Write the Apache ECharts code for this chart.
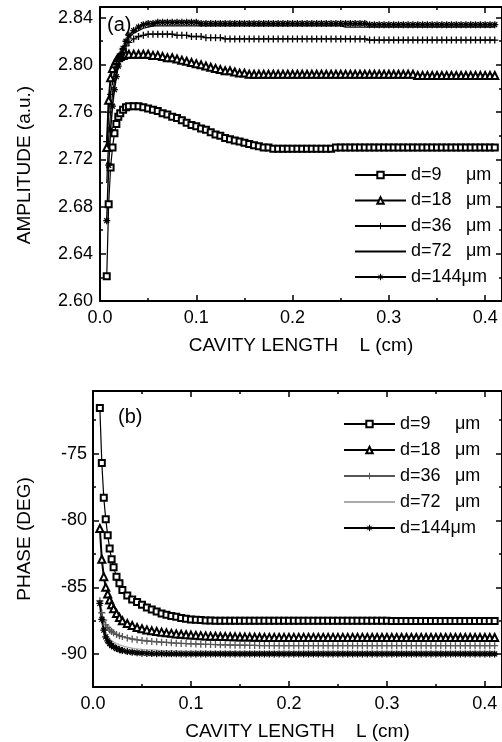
<!DOCTYPE html>
<html><head><meta charset="utf-8">
<script src="https://cdn.jsdelivr.net/npm/echarts@6/dist/echarts.min.js"></script>
<style>html,body{margin:0;padding:0;background:#fff}#c{width:502px;height:742px}</style>
</head><body><div id="c"></div>
<script>
// ---------- data ----------
const L = [0.007,0.009,0.011,0.013,0.015,0.017,0.019,0.021,0.024,0.027,0.030,0.035,0.040,0.045,0.050,
 0.055,0.060,0.065,0.070,0.075,0.080,0.085,0.090,0.095,0.100,
 0.105,0.110,0.115,0.120,0.125,0.130,0.135,0.140,0.145,0.150,
 0.155,0.160,0.165,0.170,0.175,0.180,0.185,0.190,0.195,0.200,
 0.205,0.210,0.215,0.220,0.225,0.230,0.235,0.240,0.245,0.250,
 0.255,0.260,0.265,0.270,0.275,0.280,0.285,0.290,0.295,0.300,
 0.305,0.310,0.315,0.320,0.325,0.330,0.335,0.340,0.345,0.350,
 0.355,0.360,0.365,0.370,0.375,0.380,0.385,0.390,0.395,0.400,
 0.405,0.410];

const ampD9 = [2.621,2.682,2.713,2.730,2.742,2.750,2.756,2.759,2.762,2.764,2.765,2.765,2.765,2.764,2.763,
 2.762,2.761,2.759,2.758,2.756,2.755,2.753,2.751,2.749,2.748,
 2.746,2.745,2.743,2.741,2.740,2.738,2.737,2.736,2.735,2.734,
 2.733,2.732,2.731,2.730,2.730,2.729,2.729,2.729,2.729,2.729,
 2.729,2.729,2.729,2.729,2.729,2.729,2.729,2.729,2.730,2.730,
 2.730,2.730,2.730,2.730,2.730,2.730,2.730,2.730,2.730,2.730,
 2.730,2.730,2.730,2.730,2.730,2.730,2.730,2.730,2.730,2.730,
 2.730,2.730,2.730,2.730,2.730,2.730,2.730,2.730,2.730,2.730,
 2.730,2.730];
const ampD18 = [2.730,2.770,2.789,2.797,2.801,2.804,2.806,2.807,2.808,2.809,2.809,2.809,2.809,2.809,2.809,
 2.808,2.808,2.807,2.806,2.806,2.805,2.804,2.803,2.802,2.801,
 2.800,2.799,2.798,2.797,2.796,2.795,2.795,2.794,2.793,2.793,
 2.792,2.792,2.792,2.792,2.792,2.792,2.792,2.792,2.792,2.792,
 2.792,2.792,2.792,2.792,2.792,2.792,2.792,2.792,2.792,2.792,
 2.792,2.792,2.792,2.792,2.792,2.792,2.792,2.792,2.792,2.792,
 2.792,2.792,2.792,2.792,2.792,2.791,2.791,2.791,2.791,2.791,
 2.791,2.791,2.791,2.791,2.791,2.791,2.791,2.791,2.791,2.791,
 2.791,2.791];
const ampD36 = [2.735,2.760,2.775,2.786,2.794,2.800,2.805,2.809,2.813,2.816,2.819,2.822,2.824,2.825,2.826,
 2.826,2.826,2.826,2.826,2.826,2.825,2.825,2.825,2.824,2.824,
 2.824,2.823,2.823,2.823,2.823,2.822,2.822,2.822,2.822,2.822,
 2.822,2.822,2.822,2.822,2.822,2.822,2.822,2.822,2.822,2.822,
 2.822,2.822,2.822,2.822,2.822,2.822,2.822,2.822,2.822,2.822,
 2.822,2.822,2.822,2.822,2.822,2.821,2.821,2.821,2.821,2.821,
 2.821,2.821,2.821,2.821,2.821,2.821,2.821,2.821,2.821,2.821,
 2.821,2.821,2.821,2.821,2.821,2.821,2.821,2.821,2.821,2.821,
 2.821,2.821];
const ampD72 = [2.700,2.738,2.760,2.775,2.786,2.795,2.802,2.808,2.814,2.819,2.823,2.827,2.829,2.831,2.832,
 2.833,2.833,2.833,2.833,2.833,2.833,2.833,2.833,2.833,2.833,
 2.833,2.833,2.833,2.833,2.833,2.833,2.833,2.833,2.833,2.833,
 2.833,2.833,2.833,2.833,2.833,2.833,2.833,2.833,2.833,2.833,
 2.833,2.833,2.833,2.833,2.833,2.833,2.833,2.833,2.833,2.833,
 2.832,2.832,2.832,2.832,2.832,2.832,2.832,2.832,2.832,2.832,
 2.832,2.832,2.832,2.832,2.832,2.832,2.832,2.832,2.832,2.832,
 2.832,2.832,2.832,2.832,2.832,2.832,2.832,2.832,2.832,2.832,
 2.832,2.832];
const ampD144 = [2.668,2.715,2.745,2.765,2.779,2.790,2.799,2.806,2.814,2.820,2.825,2.829,2.832,2.834,2.835,
 2.835,2.836,2.836,2.836,2.836,2.836,2.836,2.836,2.836,2.836,
 2.835,2.835,2.835,2.835,2.835,2.835,2.835,2.835,2.835,2.835,
 2.835,2.835,2.835,2.835,2.835,2.835,2.835,2.835,2.835,2.835,
 2.835,2.835,2.835,2.835,2.835,2.835,2.835,2.835,2.835,2.835,
 2.835,2.835,2.835,2.835,2.835,2.834,2.834,2.834,2.834,2.834,
 2.834,2.834,2.834,2.834,2.834,2.834,2.834,2.834,2.834,2.834,
 2.834,2.834,2.834,2.834,2.834,2.834,2.834,2.834,2.834,2.834,
 2.834,2.834];

const phD9 = [-71.6,-75.7,-78.3,-79.9,-81.1,-82.1,-82.9,-83.5,-84.2,-84.7,-85.2,-85.6,-85.9,-86.1,-86.3,
 -86.5,-86.65,-86.8,-86.95,-87.05,-87.15,-87.2,-87.3,-87.35,-87.4,
 -87.42,-87.45,-87.47,-87.48,-87.5,-87.5,-87.5,-87.5,-87.5,-87.5,
 -87.5,-87.5,-87.5,-87.5,-87.5,-87.5,-87.5,-87.5,-87.5,-87.5,
 -87.5,-87.5,-87.5,-87.5,-87.5,-87.5,-87.5,-87.5,-87.5,-87.5,
 -87.5,-87.5,-87.5,-87.5,-87.5,-87.5,-87.5,-87.5,-87.5,-87.5,
 -87.52,-87.52,-87.52,-87.52,-87.52,-87.52,-87.52,-87.52,-87.52,-87.52,
 -87.52,-87.52,-87.52,-87.52,-87.52,-87.52,-87.52,-87.52,-87.52,-87.52,
 -87.52,-87.52];
const phD18 = [-80.6,-82.9,-84.2,-85.0,-85.5,-85.95,-86.3,-86.6,-86.95,-87.25,-87.5,-87.7,-87.85,-88.0,-88.1,
 -88.18,-88.25,-88.3,-88.35,-88.4,-88.44,-88.48,-88.51,-88.54,-88.57,
 -88.59,-88.61,-88.63,-88.65,-88.66,-88.67,-88.68,-88.69,-88.7,-88.71,
 -88.72,-88.72,-88.73,-88.73,-88.74,-88.74,-88.74,-88.74,-88.74,-88.74,
 -88.74,-88.74,-88.74,-88.74,-88.74,-88.74,-88.74,-88.74,-88.74,-88.74,
 -88.74,-88.74,-88.74,-88.74,-88.74,-88.75,-88.75,-88.75,-88.75,-88.75,
 -88.75,-88.75,-88.75,-88.75,-88.75,-88.75,-88.75,-88.75,-88.75,-88.75,
 -88.75,-88.75,-88.75,-88.75,-88.75,-88.75,-88.75,-88.75,-88.75,-88.75,
 -88.75,-88.75];
const phD36 = [-86.0,-86.9,-87.45,-87.8,-88.0,-88.18,-88.3,-88.4,-88.52,-88.62,-88.68,-88.78,-88.86,-88.92,-88.97,
 -89.01,-89.04,-89.07,-89.1,-89.12,-89.15,-89.17,-89.19,-89.2,-89.22,
 -89.23,-89.25,-89.26,-89.27,-89.28,-89.29,-89.3,-89.31,-89.32,-89.33,
 -89.33,-89.34,-89.34,-89.35,-89.35,-89.35,-89.36,-89.36,-89.36,-89.36,
 -89.36,-89.36,-89.36,-89.36,-89.36,-89.36,-89.36,-89.36,-89.36,-89.36,
 -89.36,-89.36,-89.36,-89.36,-89.36,-89.36,-89.36,-89.36,-89.36,-89.36,
 -89.36,-89.36,-89.36,-89.36,-89.36,-89.36,-89.36,-89.36,-89.36,-89.36,
 -89.36,-89.36,-89.36,-89.36,-89.36,-89.36,-89.36,-89.36,-89.36,-89.36,
 -89.36,-89.36];
const phD72 = [-86.8,-87.6,-88.1,-88.45,-88.68,-88.85,-88.98,-89.08,-89.2,-89.3,-89.38,-89.47,-89.54,-89.59,-89.63,
 -89.66,-89.68,-89.7,-89.72,-89.73,-89.74,-89.75,-89.76,-89.76,-89.77,
 -89.77,-89.77,-89.77,-89.78,-89.78,-89.78,-89.78,-89.78,-89.78,-89.78,
 -89.78,-89.78,-89.78,-89.78,-89.78,-89.78,-89.78,-89.78,-89.78,-89.78,
 -89.78,-89.78,-89.78,-89.78,-89.78,-89.78,-89.78,-89.78,-89.78,-89.78,
 -89.78,-89.78,-89.78,-89.78,-89.78,-89.78,-89.78,-89.78,-89.78,-89.78,
 -89.78,-89.78,-89.78,-89.78,-89.78,-89.78,-89.78,-89.78,-89.78,-89.78,
 -89.78,-89.78,-89.78,-89.78,-89.78,-89.78,-89.78,-89.78,-89.78,-89.78,
 -89.78,-89.78];
const phD144 = [-86.2,-87.4,-88.2,-88.7,-89.0,-89.2,-89.35,-89.45,-89.57,-89.66,-89.72,-89.8,-89.85,-89.89,-89.92,
 -89.94,-89.95,-89.96,-89.96,-89.97,-89.97,-89.97,-89.98,-89.98,-89.98,
 -89.98,-89.98,-89.98,-89.98,-89.98,-89.98,-89.98,-89.98,-89.98,-89.98,
 -89.98,-89.98,-89.98,-89.98,-89.98,-89.98,-89.98,-89.98,-89.98,-89.98,
 -89.98,-89.98,-89.98,-89.98,-89.98,-89.98,-89.98,-89.98,-89.98,-89.98,
 -89.98,-89.98,-89.98,-89.98,-89.98,-89.98,-89.98,-89.98,-89.98,-89.98,
 -89.98,-89.98,-89.98,-89.98,-89.98,-89.98,-89.98,-89.98,-89.98,-89.98,
 -89.98,-89.98,-89.98,-89.98,-89.98,-89.98,-89.98,-89.98,-89.98,-89.98,
 -89.98,-89.98];

const legendLabels = ['d=9', 'd=18', 'd=36', 'd=72', 'd=144'];
const phMajorTicks = [-90, -85, -80, -75];
const phMinorTicks = [-87.5, -82.5, -77.5, -72.5];

// ---------- chart ----------
const FONT = '"Liberation Sans", Arial, sans-serif';
const PLUS = 'path://M5,0L5,10M0,5L10,5';
const STAR = 'path://M5,0L5,10M0,5L10,5M1.5,1.5L8.5,8.5M8.5,1.5L1.5,8.5';

function xAx(grid, pos) {
  return {
    type: 'value', gridIndex: grid, position: pos, min: 0, max: 0.4175, interval: 0.1,
    axisLine: {show: true, onZero: false, lineStyle: {color: '#000', width: 2}},
    axisTick: {show: true, inside: true, length: 6, lineStyle: {color: '#000', width: 1.5}},
    minorTick: {show: true, splitNumber: 2, length: 3, lineStyle: {color: '#000', width: 1.5}},
    splitLine: {show: false}, minorSplitLine: {show: false},
    axisLabel: {show: pos === 'bottom', showMaxLabel: false, margin: 8,
      formatter: v => v.toFixed(1), color: '#000', fontFamily: FONT, fontSize: 18},
    name: pos === 'bottom' ? 'CAVITY LENGTH    L (cm)' : '',
    nameLocation: 'middle', nameGap: 35,
    nameTextStyle: {color: '#000', fontFamily: FONT, fontSize: 19}
  };
}
function yAmp(pos) {
  return {
    type: 'value', gridIndex: 0, position: pos, min: 2.60, max: 2.849, interval: 0.04,
    axisLine: {show: true, onZero: false, lineStyle: {color: '#000', width: 2}},
    axisTick: {show: true, inside: true, length: 6, lineStyle: {color: '#000', width: 1.5}},
    minorTick: {show: true, splitNumber: 2, length: 3, lineStyle: {color: '#000', width: 1.5}},
    splitLine: {show: false}, minorSplitLine: {show: false},
    axisLabel: {show: pos === 'left', showMaxLabel: false, margin: 7,
      formatter: v => v.toFixed(2), color: '#000', fontFamily: FONT, fontSize: 18},
    name: pos === 'left' ? 'AMPLITUDE (a.u.)' : '',
    nameLocation: 'middle', nameGap: 66,
    nameTextStyle: {color: '#000', fontFamily: FONT, fontSize: 19, padding: [0, 22, 0, 0]}
  };
}
function yPh(pos, minor) {
  return {
    type: 'value', gridIndex: 1, position: pos, min: -92.45, max: -70.32,
    axisLine: {show: !minor, onZero: false, lineStyle: {color: '#000', width: 2}},
    axisTick: {show: true, inside: true, length: minor ? 3 : 6,
      customValues: minor ? phMinorTicks : phMajorTicks, lineStyle: {color: '#000', width: 1.5}},
    splitLine: {show: false},
    axisLabel: {show: pos === 'left' && !minor, customValues: phMajorTicks, margin: 6,
      formatter: v => String(Math.round(v)), color: '#000', fontFamily: FONT, fontSize: 18},
    name: (pos === 'left' && !minor) ? 'PHASE (DEG)' : '',
    nameLocation: 'middle', nameGap: 59,
    nameTextStyle: {color: '#000', fontFamily: FONT, fontSize: 19}
  };
}

function ser(name, xi, yi, ys, o) {
  return Object.assign({
    type: 'line', name: name, xAxisIndex: xi, yAxisIndex: yi,
    data: L.map((x, i) => [x, ys[i]]),
    showAllSymbol: true, animation: false
  }, o);
}
function st(color, lw, symbol, size, bw) {
  return {
    color: color,
    lineStyle: {color: color, width: lw},
    itemStyle: {color: color, borderColor: color, borderWidth: bw || 1},
    symbol: symbol, symbolSize: size, showSymbol: symbol !== 'none'
  };
}

const series = [
  ser('a0', 0, 0, ampD9,  st('#000', 1.2, 'emptyRect', 6)),
  ser('a1', 0, 0, ampD18, st('#000', 2, 'emptyTriangle', 7)),
  ser('a2', 0, 0, ampD36, st('#000', 1, PLUS, 7, 1.3)),
  ser('a3', 0, 0, ampD72, st('#000', 1.2, 'none', 5)),
  ser('a4', 0, 0, ampD144, st('#000', 1.5, STAR, 7, 1.3)),
  ser('b0', 2, 2, phD9,   st('#000', 1.2, 'emptyRect', 6)),
  ser('b1', 2, 2, phD18,  st('#000', 2, 'emptyTriangle', 7)),
  ser('b2', 2, 2, phD36,  st('#555', 1, PLUS, 7, 1.3)),
  ser('b3', 2, 2, phD72,  st('#aaa', 1.2, 'none', 5)),
  ser('b4', 2, 2, phD144, st('#000', 2, STAR, 7, 1.3))
];

function legendFmt(name) {
  const lab = legendLabels[+name.slice(1)];
  return lab === 'd=144' ? '{m|d=144μm}' : '{n|' + lab + '}{m|μm}';
}
function legend(prefix, left, top, gap) {
  return {
    orient: 'vertical', left: left, top: top, padding: 0, itemGap: gap,
    itemWidth: 51, itemHeight: 8, selectedMode: false,
    data: [0,1,2,3,4].map(i => i === 3
      ? {name: prefix + i, itemStyle: {opacity: 0}}
      : {name: prefix + i}),
    itemStyle: {borderWidth: 1},
    formatter: legendFmt,
    textStyle: {color: '#000', fontFamily: FONT, fontSize: 18,
      rich: {n: {width: 55, fontFamily: FONT, fontSize: 18, lineHeight: 18, color: '#000'},
             m: {fontFamily: FONT, fontSize: 18, lineHeight: 18, color: '#000'}}}
  };
}

const chart = echarts.init(document.getElementById('c'), null, {renderer: 'canvas'});
chart.setOption({
  animation: false,
  backgroundColor: '#fff',
  grid: [
    {left: 100, top: 7, right: -2, bottom: 441, show: false},
    {left: 93, top: 391, right: -2, bottom: 53, show: false}
  ],
  xAxis: [xAx(0, 'bottom'), xAx(0, 'top'), xAx(1, 'bottom'), xAx(1, 'top')],
  yAxis: [yAmp('left'), yAmp('right'), yPh('left', false), yPh('right', false),
          yPh('left', true), yPh('right', true)],
  legend: [legend('a', 354, 166, 7.5), legend('b', 343, 415, 8)],
  graphic: [
    {type: 'text', left: 107, top: 15, style: {text: '(a)', font: '20px "Liberation Sans"', fill: '#000'}},
    {type: 'text', left: 118, top: 407, style: {text: '(b)', font: '20px "Liberation Sans"', fill: '#000'}}
  ],
  series: series
});
</script>
</body></html>
